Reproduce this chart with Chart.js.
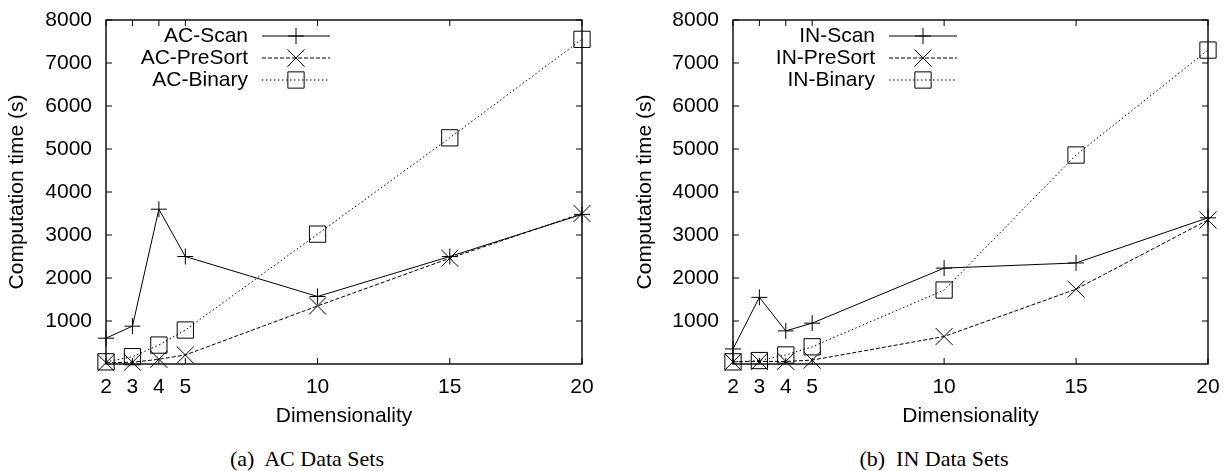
<!DOCTYPE html>
<html>
<head>
<meta charset="utf-8">
<title>Computation time vs dimensionality</title>
<script src="https://cdn.jsdelivr.net/npm/chart.js@4.4.1/dist/chart.umd.min.js"></script>
<style>
  body { margin: 0; background: #fff; width: 1232px; height: 471px; position: relative; overflow: hidden; }
  .fig { position: absolute; top: 0; width: 616px; height: 440px; }
  .cap { position: absolute; top: 446px; font-family: "Liberation Serif", serif; font-size: 22px; white-space: pre; transform: translateX(-50%); color: #000; }
</style>
</head>
<body>
<div class="fig" style="left:0"><canvas id="acChart"></canvas></div>
<div class="fig" style="left:616px"><canvas id="inChart"></canvas></div>
<div class="cap" style="left:307px">(a)  AC Data Sets</div>
<div class="cap" style="left:934px">(b)  IN Data Sets</div>

<script>
"use strict";

// x-achse (dimensionalitet) och y-ticks
const dims = [2, 3, 4, 5, 10, 15, 20];
const yTicks = [1000, 2000, 3000, 4000, 5000, 6000, 7000, 8000];

// AC data sets (sekunder)
const acNames = ['AC-Scan', 'AC-PreSort', 'AC-Binary'];
const acScan = [600, 880, 3600, 2500, 1570, 2500, 3480];
const acPreSort = [30, 40, 110, 210, 1350, 2460, 3500];
const acBinary = [50, 170, 440, 790, 3020, 5260, 7550];

// IN data sets (sekunder)
const inNames = ['IN-Scan', 'IN-PreSort', 'IN-Binary'];
const inScan = [350, 1550, 770, 950, 2230, 2350, 3400];
const inPreSort = [50, 60, 60, 90, 640, 1740, 3350];
const inBinary = [50, 80, 210, 400, 1720, 4860, 7300];

// stil per serie: heldragen, streckad, prickad
const dashes = [[], [4, 2], [1.5, 2.5]];
const markers = ['cross', 'crossRot', 'rect'];
const markerSizes = [8, 12, 11.5];

Chart.defaults.font.family = '"Liberation Sans", Arial, sans-serif';
Chart.defaults.font.size = 21;
Chart.defaults.color = '#000';

// ram + inåtriktade ticks (gnuplot-stil)
const framePlugin = {
    id: 'frame',
    beforeDatasetsDraw(chart) {
        const ctx = chart.ctx;
        const a = chart.chartArea;
        const xs = chart.scales.x;
        const ys = chart.scales.y;
        ctx.save();
        ctx.strokeStyle = '#000';
        ctx.lineWidth = 1;
        ctx.beginPath();
        yTicks.forEach(v => {
            const y = ys.getPixelForValue(v);
            ctx.moveTo(a.left, y); ctx.lineTo(a.left + 6, y);
            ctx.moveTo(a.right, y); ctx.lineTo(a.right - 6, y);
        });
        dims.forEach(v => {
            const x = xs.getPixelForValue(v);
            ctx.moveTo(x, a.bottom); ctx.lineTo(x, a.bottom - 6);
            ctx.moveTo(x, a.top); ctx.lineTo(x, a.top + 6);
        });
        ctx.stroke();
        ctx.lineWidth = 1.4;
        ctx.strokeRect(a.left, a.top, a.right - a.left, a.bottom - a.top);
        ctx.restore();
    }
};

// legend uppe till vänster: text, linje, markör
const keyPlugin = {
    id: 'key',
    afterDatasetsDraw(chart) {
        const ctx = chart.ctx;
        const a = chart.chartArea;
        ctx.save();
        ctx.font = '21px "Liberation Sans", Arial, sans-serif';
        ctx.textAlign = 'right';
        ctx.textBaseline = 'middle';
        chart.data.datasets.forEach((ds, i) => {
            const y = a.top + 16 + i * 22;
            ctx.fillStyle = '#000';
            ctx.fillText(ds.label, a.left + 142, y);
            ctx.strokeStyle = '#000';
            ctx.lineWidth = 1;
            ctx.setLineDash(ds.borderDash);
            ctx.beginPath();
            ctx.moveTo(a.left + 156, y);
            ctx.lineTo(a.left + 224, y);
            ctx.stroke();
            ctx.setLineDash([]);
            ctx.fillStyle = 'rgba(0,0,0,0)';
            Chart.helpers.drawPoint(ctx, {
                pointStyle: ds.pointStyle,
                radius: ds.pointRadius,
                rotation: 0,
                borderWidth: 1
            }, a.left + 190, y);
        });
        ctx.restore();
    }
};

function noPadding(scale) {
    scale.paddingTop = 0;
    scale.paddingBottom = 0;
    scale.paddingLeft = 0;
    scale.paddingRight = 0;
}

function makeChart(id, names, series, axisWidth, rightPad, titlePad) {
    return new Chart(document.getElementById(id), {
        type: 'line',
        data: {
            datasets: series.map((values, i) => ({
                label: names[i],
                data: values.map((v, j) => ({ x: dims[j], y: v })),
                borderColor: '#000',
                borderWidth: 1,
                borderDash: dashes[i],
                pointStyle: markers[i],
                pointRadius: markerSizes[i],
                pointHoverRadius: markerSizes[i],
                pointBorderColor: '#000',
                pointBorderWidth: 1,
                pointBackgroundColor: 'rgba(0,0,0,0)',
                tension: 0,
                clip: false
            }))
        },
        options: {
            responsive: true,
            maintainAspectRatio: false,
            animation: false,
            events: [],
            layout: { padding: { left: 0, top: 20, right: rightPad, bottom: 0 } },
            plugins: { legend: { display: false }, tooltip: { enabled: false } },
            scales: {
                x: {
                    type: 'linear',
                    min: 2,
                    max: 20,
                    afterBuildTicks: s => { s.ticks = dims.map(v => ({ value: v })); },
                    afterFit: s => { s.height = 76; noPadding(s); },
                    grid: { display: false, drawTicks: false },
                    border: { display: false },
                    ticks: { padding: 11, autoSkip: false, maxRotation: 0, color: '#000', callback: v => String(v) },
                    title: { display: true, text: 'Dimensionality', color: '#000', padding: { top: 0, bottom: 11 } }
                },
                y: {
                    min: 0,
                    max: 8000,
                    afterBuildTicks: s => { s.ticks = yTicks.map(v => ({ value: v })); },
                    afterFit: s => { s.width = axisWidth; noPadding(s); },
                    grid: { display: false, drawTicks: false },
                    border: { display: false },
                    ticks: { padding: 14, color: '#000', callback: v => String(v) },
                    title: { display: true, text: 'Computation time (s)', color: '#000', padding: { top: titlePad, bottom: 0 } }
                }
            }
        },
        plugins: [framePlugin, keyPlugin]
    });
}

makeChart('acChart', acNames, [acScan, acPreSort, acBinary], 106, 34, 4.5);
makeChart('inChart', inNames, [inScan, inPreSort, inBinary], 117, 24, 16.5);
</script>
</body>
</html>
